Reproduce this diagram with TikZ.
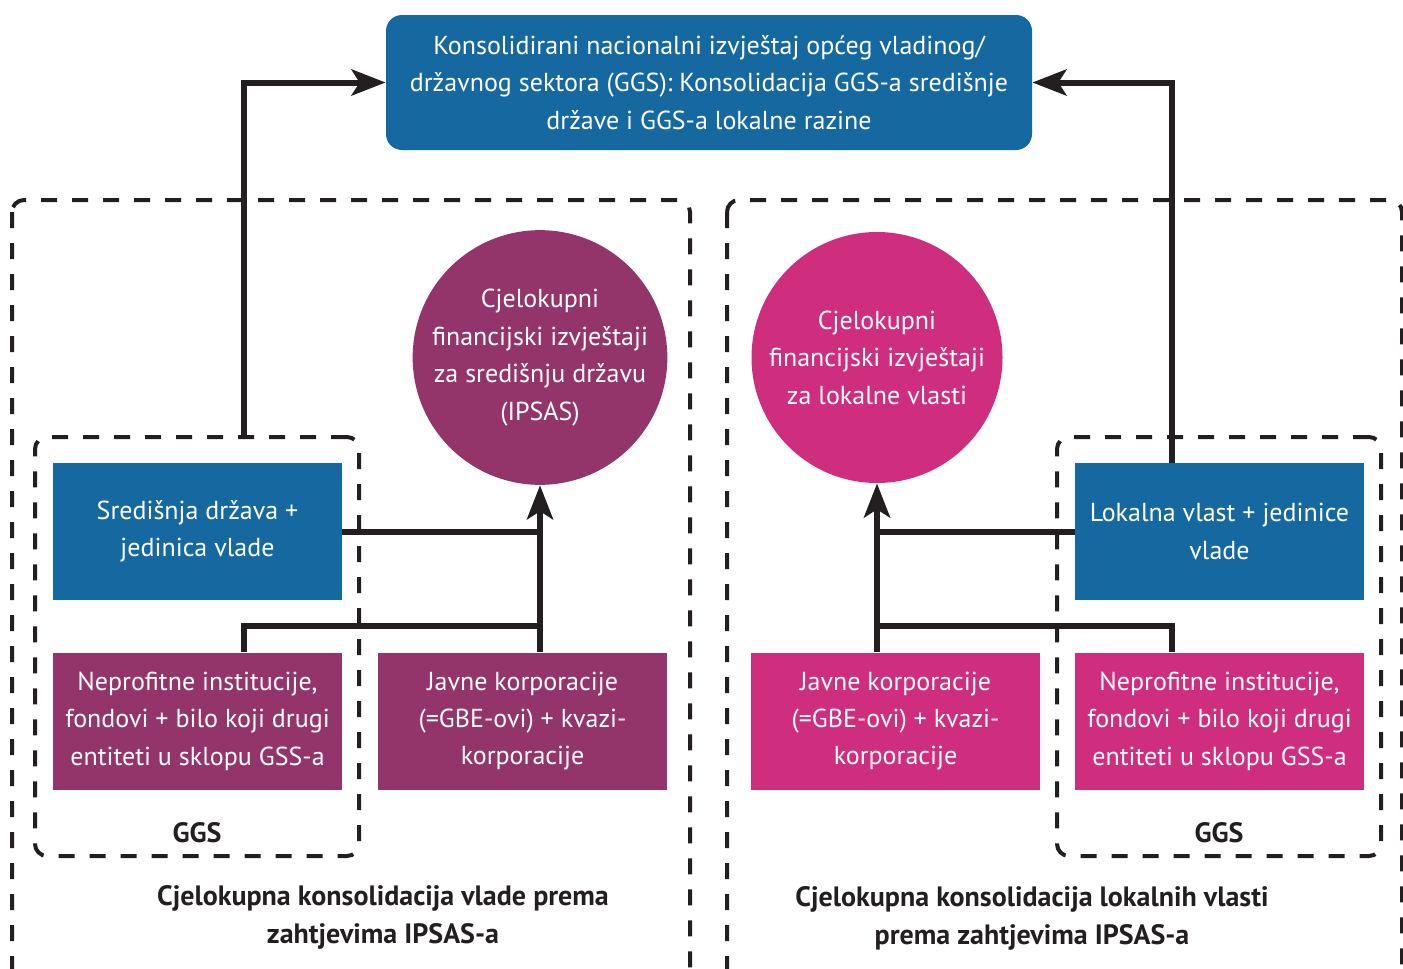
\documentclass[tikz,border=0pt]{standalone}
\usepackage{fontspec}
\setmainfont{PT Sans}
\usetikzlibrary{arrows.meta,positioning}
\definecolor{ggsblue}{HTML}{1668A0}
\definecolor{cgpurple}{HTML}{93346A}
\definecolor{lgpink}{HTML}{CF2E7F}
\definecolor{linegray}{HTML}{231F20}
\tikzset{
  txt/.style={text=white,align=center,font=\fontsize{13}{18.7}\selectfont},
  unitbox/.style={txt,rectangle,minimum width=144.5pt,minimum height=68.5pt,inner sep=0pt},
  fsbox/.style={txt,circle,minimum size=125.5pt,inner sep=0pt},
  groupbox/.style={draw=linegray,line width=2pt,dash pattern=on 8pt off 7.5pt,rounded corners=6pt},
  lbl/.style={text=linegray,align=center,font=\fontsize{14}{18.7}\selectfont\bfseries},
  line/.style={draw=linegray,line width=3pt},
  conn/.style={line,-{Stealth[length=17pt,width=13pt,inset=4pt]}}
}
\begin{document}
\begin{tikzpicture}[x=0.5pt,y=-0.5pt]
  \useasboundingbox (0,0) rectangle (1403,969);
  \begin{scope}
    \clip (0,0) rectangle (1403,969);
    \draw[groupbox] (12,200) rectangle (690,1000);
    \draw[groupbox] (727,200) rectangle (1402,1000);
  \end{scope}

  \node[txt,fill=ggsblue,rounded corners=8pt,minimum width=323pt,minimum height=67.5pt,inner sep=0pt]
    (top) at (709,82.5) {Konsolidirani nacionalni izvještaj općeg vladinog/\\
    državnog sektora (GGS): Konsolidacija GGS-a središnje\\ države i GGS-a lokalne razine};

  % left: central government
  \node[groupbox,minimum width=162pt,minimum height=209.5pt] (ggsL) at (197,646.5) {};
  \node[fsbox,fill=cgpurple] (ciL) at (540,357.5) {Cjelokupni\\ financijski izvještaji\\ za središnju državu\\ (IPSAS)};
  \node[unitbox,fill=ggsblue] (sdL) at (197.5,531.5) {Središnja država +\\ jedinica vlade};
  \node[unitbox,fill=cgpurple] (npL) at (197.5,721) {Neprofitne institucije,\\ fondovi + bilo koji drugi\\ entiteti u sklopu GSS-a};
  \node[unitbox,fill=cgpurple] (jkL) at (522.5,721) {Javne korporacije\\ (=GBE-ovi) + kvazi-\\ korporacije};
  \node[lbl] (gL) at (197,833) {GGS};
  \node[lbl] (tL) at (383,917.5) {Cjelokupna konsolidacija vlade prema\\ zahtjevima IPSAS-a};

  % right: local government
  \node[groupbox,minimum width=162pt,minimum height=209.5pt] (ggsR) at (1219,646.5) {};
  \node[fsbox,fill=lgpink] (ciR) at (877,357.5) {Cjelokupni\\ financijski izvještaji\\ za lokalne vlasti};
  \node[unitbox,fill=ggsblue] (lvR) at (1219.5,531.5) {Lokalna vlast + jedinice\\ vlade};
  \node[unitbox,fill=lgpink] (jkR) at (895.5,721) {Javne korporacije\\ (=GBE-ovi) + kvazi-\\ korporacije};
  \node[unitbox,fill=lgpink] (npR) at (1219.5,721) {Neprofitne institucije,\\ fondovi + bilo koji drugi\\ entiteti u sklopu GSS-a};
  \node[lbl] (gR) at (1219,833) {GGS};
  \node[lbl] (tR) at (1032,918.5) {Cjelokupna konsolidacija lokalnih vlasti\\ prema zahtjevima IPSAS-a};

  \coordinate (colL) at (244,0);
  \coordinate (colR) at (1172,0);
  \coordinate (jnL) at (540,626);
  \coordinate (jnR) at (877,626);

  \draw[conn] (ggsL.north -| colL) |- (top.west);
  \draw[conn] (lvR.north -| colR) |- (top.east);

  \draw[line] (sdL.east) -- (sdL.east -| jnL);
  \draw[line] (npL.north -| colL) |- (jnL);
  \draw[conn] (jkL.north -| ciL.south) -- (ciL.south);

  \draw[line] (lvR.west) -- (lvR.west -| jnR);
  \draw[line] (npR.north -| colR) |- (jnR);
  \draw[conn] (jkR.north -| ciR.south) -- (ciR.south);
\end{tikzpicture}
\end{document}
